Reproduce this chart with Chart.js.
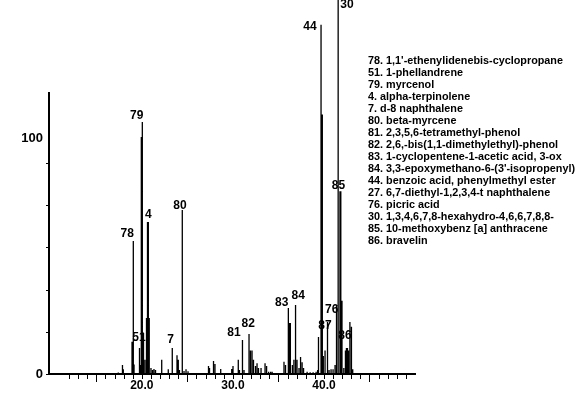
<!DOCTYPE html>
<html>
<head>
<meta charset="utf-8">
<script src="https://cdn.jsdelivr.net/npm/chart.js"></script>
<style>
  html, body { margin: 0; padding: 0; background: #fff; }
  canvas { display: block; }
</style>
</head>
<body>
<canvas id="myChart" width="576" height="395"></canvas>
<script>
    // retention times (min) and abundances of the sticks
    const rt = [17.41, 17.87, 17.96, 18.92, 19.00, 19.06, 19.14, 19.74, 19.83, 19.94, 20.05, 20.18, 20.34,
        20.51, 20.62, 20.71, 20.81, 21.00, 21.17, 21.33, 21.50, 22.18, 22.90, 23.34, 23.86, 24.00, 24.13,
        24.44, 24.63, 24.85, 25.07, 27.32, 27.43, 27.87, 28.03, 28.66, 29.87, 30.01, 30.59, 30.72, 31.05,
        31.22, 31.77, 31.93, 32.10, 32.26, 32.48, 32.65, 32.81, 33.09, 33.53, 33.70, 33.92, 34.14, 34.31,
        35.61, 35.78, 36.09, 36.20, 36.31, 36.53, 36.70, 36.88, 37.04, 37.26, 37.43, 37.60, 37.76, 38.15,
        38.48, 38.81, 39.14, 39.31, 39.40, 39.68, 39.82, 39.93, 40.12, 40.39, 40.56, 40.78, 41.00, 41.22,
        41.38, 41.56, 41.76, 41.85, 41.98, 42.18, 42.36, 42.47, 42.58, 42.69, 42.85, 43.02, 43.16];
    const abund = [0.6, 3.8, 2.0, 13.7, 13.7, 56.4, 4.0, 11.0, 3.8, 100.4, 106.8, 17.4, 6.0,
        23.7, 64.4, 64.4, 23.7, 2.5, 1.7, 2.1, 1.7, 6.0, 2.0, 11.0, 8.0, 6.0, 1.7,
        69.5, 1.3, 2.0, 1.2, 3.4, 2.5, 5.5, 4.2, 2.1, 2.1, 3.4, 6.0, 1.7, 14.4,
        1.7, 17.0, 10.0, 10.0, 6.0, 3.4, 4.6, 2.5, 2.5, 4.6, 3.4, 1.0, 1.0, 1.0,
        5.2, 3.8, 28.0, 21.6, 21.6, 3.8, 6.0, 29.2, 6.0, 2.5, 7.2, 5.0, 2.5, 1.0,
        0.7, 0.7, 1.0, 1.7, 15.7, 148.0, 110.0, 7.6, 10.0, 22.0, 1.7, 2.0, 2.0, 3.8,
        29.0, 165.0, 77.5, 77.5, 31.0, 2.5, 10.0, 11.0, 11.0, 10.0, 22.0, 20.0, 2.0];

    // peak numbers written on the chart, with the point they sit at
    const labelText = ['78', '79', '4', '80', '51', '7', '81', '82', '83', '84', '87', '76', '86', '44', '30', '85'];
    const labelTime = [18.40, 19.43, 20.71, 24.19, 19.69, 23.15, 30.12, 31.69, 35.36, 37.18, 40.12, 40.85, 42.31, 38.47, 42.53, 41.60];
    const labelValue = [59.3, 109.5, 67.4, 71.4, 15.3, 14.4, 17.4, 21.3, 30.1, 33.3, 20.3, 27.1, 16.1, 147.0, 156.4, 79.7];

    const legendLines = [
        '78. 1,1\'-ethenylidenebis-cyclopropane',
        '51. 1-phellandrene',
        '79. myrcenol',
        '4. alpha-terpinolene',
        '7. d-8 naphthalene',
        '80. beta-myrcene',
        '81. 2,3,5,6-tetramethyl-phenol',
        '82. 2,6,-bis(1,1-dimethylethyl)-phenol',
        '83. 1-cyclopentene-1-acetic acid, 3-ox',
        '84. 3,3-epoxymethano-6-(3\'-isopropenyl)',
        '44. benzoic acid, phenylmethyl ester',
        '27. 6,7-diethyl-1,2,3,4-t naphthalene',
        '76. picric acid',
        '30. 1,3,4,6,7,8-hexahydro-4,6,6,7,8,8-',
        '85. 10-methoxybenz [a] anthracene',
        '86. bravelin'
    ];

    // axis ticks
    const xTicks = [];
    for (let t = 12; t <= 49; t++) xTicks.push(t);
    const xLongTicks = [15, 25, 35, 45];
    const xLabels = [20, 30, 40];
    const yTicks = [0, 17.9, 35.8, 53.7, 71.6, 89.5];
    const yLabels = [0, 100];

    // one line dataset, broken by nulls into separate sticks
    let sticks = [];
    rt.forEach((t, i) => {
        sticks.push({ x: t, y: 0 }, { x: t, y: abund[i] }, { x: t, y: null });
    });

    const boldFont = 'bold 12px "Liberation Sans", Arial, sans-serif';

    const extras = {
        id: 'extras',
        afterDraw(chart) {
            const ctx = chart.ctx;
            const xs = chart.scales.x, ys = chart.scales.y;
            const base = ys.getPixelForValue(0);
            ctx.save();
            ctx.strokeStyle = '#000';
            ctx.lineWidth = 1;
            // x tick marks
            xTicks.forEach(t => {
                const px = Math.round(xs.getPixelForValue(t)) + 0.5;
                const len = xLongTicks.includes(t) ? 8 : 5;
                ctx.beginPath();
                ctx.moveTo(px, base);
                ctx.lineTo(px, base + len);
                ctx.stroke();
            });
            // y tick marks
            yTicks.forEach(v => {
                const py = Math.round(ys.getPixelForValue(v)) + 0.5;
                ctx.beginPath();
                ctx.moveTo(xs.left - 3, py);
                ctx.lineTo(xs.left, py);
                ctx.stroke();
            });
            // peak numbers
            ctx.fillStyle = '#000';
            ctx.font = boldFont;
            ctx.textAlign = 'center';
            ctx.textBaseline = 'middle';
            labelText.forEach((s, i) => {
                ctx.fillText(s, xs.getPixelForValue(labelTime[i]), ys.getPixelForValue(labelValue[i]));
            });
            // legend text, squeezed to the narrow face of the original
            ctx.font = 'bold 11px "Liberation Sans", Arial, sans-serif';
            ctx.textAlign = 'left';
            const squeeze = 195 / ctx.measureText(legendLines[0]).width;
            ctx.translate(368, 0);
            ctx.scale(squeeze, 1);
            legendLines.forEach((s, i) => {
                ctx.fillText(s, 0, 61 + i * 12);
            });
            ctx.restore();
        }
    };

    var ctx = document.getElementById('myChart').getContext('2d');

    var myChart = new Chart(ctx, {
        type: 'line',
        data: {
            datasets: [{
                data: sticks,
                borderColor: '#000',
                borderWidth: 1.3,
                pointRadius: 0,
                spanGaps: false,
                clip: false
            }]
        },
        options: {
            responsive: false,
            animation: false,
            events: [],
            layout: { padding: { top: 93, right: 161, left: 0, bottom: 0 } },
            plugins: { legend: { display: false }, tooltip: { enabled: false } },
            scales: {
                x: {
                    type: 'linear',
                    min: 9.8,
                    max: 50,
                    afterFit: s => { s.height = 21; },
                    afterBuildTicks: s => { s.ticks = xTicks.map(v => ({ value: v })); },
                    grid: { drawOnChartArea: false, drawTicks: false },
                    border: { color: '#000', width: 2 },
                    ticks: {
                        autoSkip: false,
                        maxRotation: 0,
                        padding: 4,
                        color: '#000',
                        font: { family: '"Liberation Sans", Arial, sans-serif', size: 12, weight: 'bold' },
                        callback: v => xLabels.includes(v) ? v.toFixed(1) : ''
                    }
                },
                y: {
                    min: 0,
                    max: 119.1,
                    afterFit: s => { s.width = 49; },
                    afterBuildTicks: s => { s.ticks = yLabels.map(v => ({ value: v })); },
                    grid: { drawOnChartArea: false, drawTicks: false },
                    border: { color: '#000', width: 2 },
                    ticks: {
                        padding: 6,
                        color: '#000',
                        font: { family: '"Liberation Sans", Arial, sans-serif', size: 13, weight: 'bold' },
                        callback: v => String(v)
                    }
                }
            }
        },
        plugins: [extras]
    });
</script>
</body>
</html>
